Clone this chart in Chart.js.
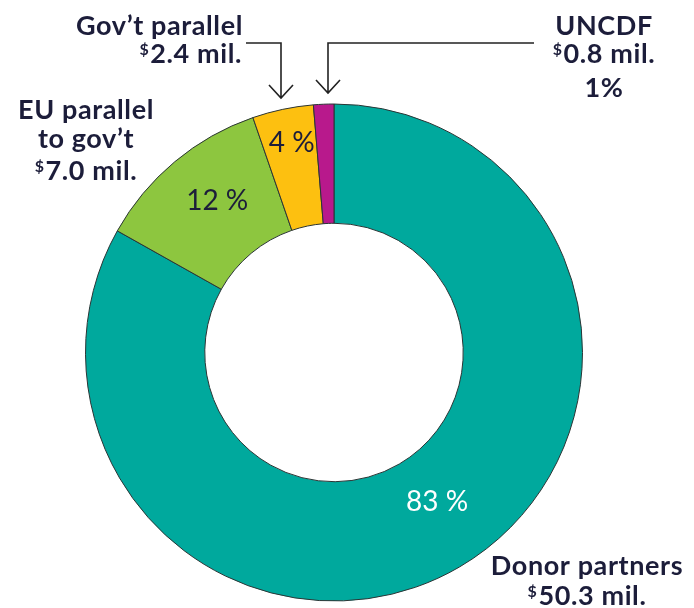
<!DOCTYPE html>
<html>
<head>
<meta charset="utf-8">
<script src="https://cdn.jsdelivr.net/npm/chart.js@4"></script>
<style>
  html, body { margin: 0; padding: 0; background: #fff; }
  #chart { display: block; }
</style>
</head>
<body>
<canvas id="chart" width="694" height="608"></canvas>
<script>
// data
const categories = ['Donor partners', "EU parallel to gov't", "Gov't parallel", 'UNCDF'];
const amounts = [50.3, 7.0, 2.4, 0.8];          // $ mil.
const shares = ['83 %', '12 %', '4 %', '1%'];
const sliceColors = ['#00a99d', '#8dc63f', '#fdc010', '#b8198c'];

const textColor = '#1c1d3a';
const labelFont = 'Lato, "Open Sans", sans-serif';

// draws a line where a leading "$" is set small and raised
const drawLine = (ctx, text, x, y, align, size, weight, color, spacing) => {
    ctx.fillStyle = color;
    ctx.textBaseline = 'alphabetic';
    ctx.textAlign = 'left';
    ctx.letterSpacing = (spacing || 0) + 'px';
    const big = `${weight} ${size}px ${labelFont}`;
    const small = `${weight} ${Math.round(size * 0.6)}px ${labelFont}`;
    let dollar = '';
    let rest = text;
    if (text.startsWith('$')) { dollar = '$'; rest = text.slice(1); }
    ctx.font = small;
    const wd = dollar ? ctx.measureText(dollar).width + 1 : 0;
    ctx.font = big;
    const wr = ctx.measureText(rest).width;
    const total = wd + wr;
    let sx = x;
    if (align === 'center') sx = x - total / 2;
    if (align === 'right') sx = x - total;
    if (dollar) {
        ctx.font = small;
        ctx.fillText(dollar, sx, y - size * 0.28);
    }
    ctx.font = big;
    ctx.fillText(rest, sx + wd, y);
    ctx.letterSpacing = '0px';
};

// outside labels + arrows
const calloutPlugin = {
    id: 'callouts',
    afterDraw(chart) {
        const ctx = chart.ctx;
        ctx.save();
        const fs = 27;
        const w = 'bold';
        const sp = 0.6;
        drawLine(ctx, "Gov\u2019t parallel", 243, 35, 'right', fs, w, textColor, sp);
        drawLine(ctx, `$${amounts[2].toFixed(1)} mil.`, 242, 63, 'right', fs, w, textColor, sp);

        drawLine(ctx, 'EU parallel', 86, 119, 'center', fs, w, textColor, sp);
        drawLine(ctx, "to gov\u2019t", 86, 148, 'center', fs, w, textColor, sp);
        drawLine(ctx, `$${amounts[1].toFixed(1)} mil.`, 86, 180, 'center', fs, w, textColor, sp);

        drawLine(ctx, 'UNCDF', 604, 35, 'center', fs, w, textColor, sp);
        drawLine(ctx, `$${amounts[3].toFixed(1)} mil.`, 604, 63, 'center', fs, w, textColor, sp);
        drawLine(ctx, shares[3], 604, 97, 'center', fs, w, textColor, sp);

        drawLine(ctx, 'Donor partners', 587, 575, 'center', fs, w, textColor, sp);
        drawLine(ctx, `$${amounts[0].toFixed(1)} mil.`, 587, 605, 'center', fs, w, textColor, sp);

        // arrows
        ctx.strokeStyle = '#222';
        ctx.lineWidth = 1.6;
        ctx.beginPath();
        ctx.moveTo(246, 43); ctx.lineTo(281, 43); ctx.lineTo(281, 97);
        ctx.moveTo(269, 85); ctx.lineTo(281, 98); ctx.lineTo(293, 85);
        ctx.moveTo(534, 43); ctx.lineTo(328, 43); ctx.lineTo(328, 92);
        ctx.moveTo(316, 80); ctx.lineTo(328, 93); ctx.lineTo(340, 80);
        ctx.stroke();

        // percentages inside the ring, placed from each arc
        const meta = chart.getDatasetMeta(0);
        const angFrac = [0.485, 0.56, 0.54];
        const radFrac = [0.43, 0.53, 0.72];
        const pctColor = ['#ffffff', textColor, textColor];
        angFrac.forEach((fa, i) => {
            const arc = meta.data[i];
            const a = arc.startAngle + fa * (arc.endAngle - arc.startAngle);
            const r = arc.innerRadius + radFrac[i] * (arc.outerRadius - arc.innerRadius);
            const px = arc.x + Math.cos(a) * r;
            const py = arc.y + Math.sin(a) * r;
            drawLine(ctx, shares[i], px, py + 10, 'center', 28, 'normal', pctColor[i], 0);
        });
        ctx.restore();
    }
};

new Chart(document.getElementById('chart'), {
    type: 'doughnut',
    data: {
        labels: categories,
        datasets: [{
            data: amounts,
            backgroundColor: sliceColors,
            borderColor: '#2b3535',
            borderWidth: 1
        }]
    },
    options: {
        responsive: false,
        animation: false,
        devicePixelRatio: 1,
        cutout: '52%',
        layout: { padding: { left: 85, right: 111, top: 103, bottom: 6 } },
        plugins: {
            legend: { display: false },
            tooltip: { enabled: false }
        }
    },
    plugins: [calloutPlugin]
});
</script>
</body>
</html>
